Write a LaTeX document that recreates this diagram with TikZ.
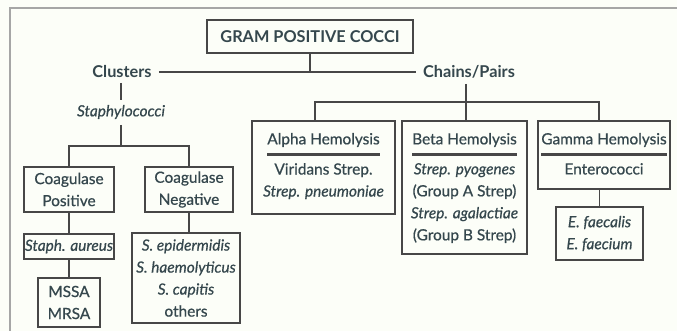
\documentclass[tikz,border=0pt]{standalone}
\usepackage{fontspec}
\setmainfont{Lato}[UprightFeatures={FakeBold=0.6},ItalicFeatures={FakeBold=0.6}]
\usetikzlibrary{calc}
\definecolor{txt}{HTML}{35474D}
\definecolor{ln}{HTML}{474747}
\definecolor{bg}{HTML}{FCFEF8}
\begin{document}
\begin{tikzpicture}[x=1pt,y=-1pt,
  every node/.style={text=txt,font=\fontsize{15.4}{22}\selectfont,inner sep=0pt},
  box/.style={draw=ln,line width=1.8pt,align=center},
  con/.style={draw=ln,line width=1.8pt},
  bld/.style={font=\fontsize{16.3}{22}\selectfont\bfseries},
  itl/.style={font=\fontsize{15.4}{22}\selectfont\itshape},
  uline/.style={draw=ln,line width=3pt}]
\fill[bg] (0,0) rectangle (677,331);
\useasboundingbox (0,0) rectangle (677,331);
\draw[draw=gray!70,line width=1.6pt] (10,331) -- (10,8) -- (677,8);
% top
\node[box,minimum width=206pt,minimum height=33pt,bld] (gpc) at (310,36.5) {GRAM POSITIVE COCCI};
\node[bld] (clu) at (122,72) {Clusters};
\node[bld] (cha) at (469,72) {Chains/Pairs};
\coordinate (cle) at ($(clu.east)+(7,0)$);
\coordinate (chw) at ($(cha.west)+(-7,0)$);
\draw[con] (cle) -- (chw);
\draw[con] (gpc.south) -- (gpc.south |- cle);
% clusters branch
\node[itl] (sta) at (121,112) {Staphylococci};
\draw[con] (121,83) -- (121,100);
\coordinate (sj) at (121,146);
\draw[con] (121,125) -- (sj);
\node[box,minimum width=90pt,minimum height=45pt] (cpos) at (69,189.5) {Coagulase\\Positive};
\node[box,minimum width=88pt,minimum height=45pt] (cneg) at (189,189.5) {Coagulase\\Negative};
\draw[con] (cpos.north) -- (cpos.north |- sj) -- (cneg.north |- sj) -- (cneg.north);
\node[box,itl,minimum width=90pt,minimum height=25pt] (sau) at (69,246.5) {Staph. aureus};
\node[box,minimum width=62pt,minimum height=49pt] (mrsa) at (69,302.5) {MSSA\\MRSA};
\node[box,itl,minimum width=108pt,minimum height=90pt] (seps) at (186,278) {S. epidermidis\\S. haemolyticus\\S. capitis\\\normalfont others};
\draw[con] (cpos.south) -- (sau.north);
\draw[con] (sau.south) -- (mrsa.north);
\draw[con] (cneg.south) -- (cneg.south |- seps.north);
% chains branch
\node[box,minimum width=143pt,minimum height=93pt] (alpha) at (323.5,167.5) {};
\node[box,minimum width=125pt,minimum height=133pt] (beta) at (464.5,187.5) {};
\node[box,minimum width=132pt,minimum height=68pt] (gamma) at (604,155) {};
\node (ah) at (323.5,140) {Alpha Hemolysis};
\node (bh) at (464.5,140) {Beta Hemolysis};
\node (gh) at (604,140) {Gamma Hemolysis};
\foreach \h in {ah,bh,gh}{\draw[uline] ($(\h.south west)+(0,7)$) -- ($(\h.south east)+(0,7)$);}
\node[align=center,anchor=north] (at) at (323.5,163) {Viridans Strep.\\\itshape Strep. pneumoniae};
\node[align=center,anchor=north] (bt) at (464.5,163) {\itshape Strep. pyogenes\\(Group A Strep)\\\itshape Strep. agalactiae\\(Group B Strep)};
\node[anchor=north] (gt) at (604,163) {Enterococci};
\node[box,itl,minimum width=87pt,minimum height=53pt] (ent) at (599.5,233.5) {E. faecalis\\E. faecium};
\coordinate (cj) at (466,102);
\draw[con] (466,84) -- (cj);
\draw[con] (315,121) -- (315,102) -- (599,102) -- (599,121);
\draw[con] (cj) -- (beta.north -| cj);
\draw[con] (gamma.south -| ent.north) -- (ent.north);
\end{tikzpicture}
\end{document}
